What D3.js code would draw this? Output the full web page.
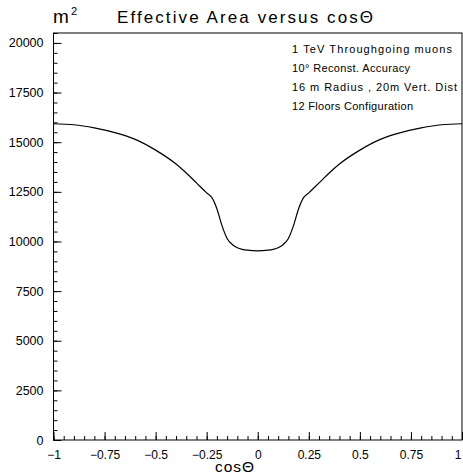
<!DOCTYPE html>
<html>
<head>
<meta charset="utf-8">
<script src="https://cdn.jsdelivr.net/npm/d3@7"></script>
<style>
  html, body { margin: 0; padding: 0; background: #fff; }
  svg { display: block; }
  text { font-family: "Liberation Sans", Arial, sans-serif; fill: #000; }
</style>
</head>
<body>
<svg id="chart" width="463" height="475"></svg>
<script>
// Effective area (m^2) as a function of cos(theta)
const cosTheta = [-1.0, -0.9, -0.8, -0.7, -0.6, -0.5, -0.4, -0.35, -0.3, -0.25, -0.225, -0.2, -0.175, -0.15, -0.125, -0.1, -0.075, -0.05, 0,
                  0.05, 0.075, 0.1, 0.125, 0.15, 0.175, 0.2, 0.225, 0.25, 0.3, 0.35, 0.4, 0.5, 0.6, 0.7, 0.8, 0.9, 1.0];
const effArea  = [15930, 15880, 15720, 15480, 15140, 14600, 13900, 13450, 12950, 12450, 12220, 11650, 10800, 10150, 9850, 9680, 9600, 9560, 9530,
                  9560, 9600, 9680, 9850, 10150, 10800, 11650, 12220, 12450, 12950, 13450, 13900, 14600, 15140, 15480, 15720, 15880, 15930];

const yTicks = [0, 2500, 5000, 7500, 10000, 12500, 15000, 17500, 20000];
const xTicks = [-1, -0.75, -0.5, -0.25, 0, 0.25, 0.5, 0.75, 1];
const xTickLabels = ["\u22121", "\u22120.75", "\u22120.5", "\u22120.25", "0", "0.25", "0.5", "0.75", "1"];
const legendLines = ["1 TeV  Throughgoing  muons", "10\u00b0  Reconst.  Accuracy", "16 m Radius , 20m Vert. Dist", "12  Floors Configuration"];

const svg = d3.select("#chart");
const L = 53.5, R = 462, T = 33, B = 440;

const x = d3.scaleLinear().domain([-1, 1]).range([L, R]);
const y = d3.scaleLinear().domain([0, 20500]).range([B, T]);

// frame
svg.append("rect")
  .attr("x", L).attr("y", T).attr("width", R - L).attr("height", B - T)
  .attr("fill", "none").attr("stroke", "#000").attr("stroke-width", 1);

// left axis: major and minor ticks pointing inward
const yMajor = svg.append("g").attr("transform", `translate(${L},0)`)
  .call(d3.axisLeft(y).tickValues(yTicks).tickSize(-8).tickPadding(10).tickFormat(d3.format("d")));
const yMinor = svg.append("g").attr("transform", `translate(${L},0)`)
  .call(d3.axisLeft(y).tickValues(d3.range(0, 20501, 500)).tickSize(-4).tickFormat(""));

// bottom axis
const xMajor = svg.append("g").attr("transform", `translate(0,${B})`)
  .call(d3.axisBottom(x).tickValues(xTicks).tickSize(-8).tickPadding(10).tickFormat((d, i) => xTickLabels[i]));
const xMinor = svg.append("g").attr("transform", `translate(0,${B})`)
  .call(d3.axisBottom(x).tickValues(d3.range(-20, 21).map(k => k * 0.05)).tickSize(-4).tickFormat(""));

[yMajor, yMinor, xMajor, xMinor].forEach(g => {
  g.select(".domain").remove();
  g.selectAll("line").attr("stroke", "#000").attr("stroke-width", 1);
  g.selectAll("text").attr("font-size", 12.5).attr("font-family", "Liberation Sans, Arial, sans-serif").attr("fill", "#000");
});
xMajor.selectAll("text").attr("font-size", 12);
// keep the rightmost label inside the canvas
xMajor.selectAll("text").filter(d => d === 1).attr("text-anchor", "end").attr("dx", "-1");

// curve
const line = d3.line()
  .x((d, i) => x(cosTheta[i]))
  .y(d => y(d))
  .curve(d3.curveMonotoneX);
svg.append("path")
  .datum(effArea)
  .attr("d", line)
  .attr("fill", "none")
  .attr("stroke", "#000")
  .attr("stroke-width", 1.2);

// titles
svg.append("text").attr("x", 53).attr("y", 23).attr("font-size", 19).text("m");
svg.append("text").attr("x", 71).attr("y", 15).attr("font-size", 11).text("2");
svg.append("text").attr("x", 117).attr("y", 23).attr("font-size", 17)
  .attr("textLength", 256).attr("lengthAdjust", "spacing")
  .text("Effective  Area  versus  cos\u0398");
svg.append("text").attr("x", 215).attr("y", 472).attr("font-size", 15.5)
  .attr("textLength", 39).attr("lengthAdjust", "spacing")
  .text("cos\u0398");

// annotation block
const legendWidths = [160, 118, 165, 121];
svg.append("g").selectAll("text").data(legendLines).join("text")
  .attr("x", 292)
  .attr("y", (d, i) => 53 + i * 19)
  .attr("font-size", 11)
  .attr("textLength", (d, i) => legendWidths[i])
  .attr("lengthAdjust", "spacing")
  .text(d => d);
</script>
</body>
</html>
